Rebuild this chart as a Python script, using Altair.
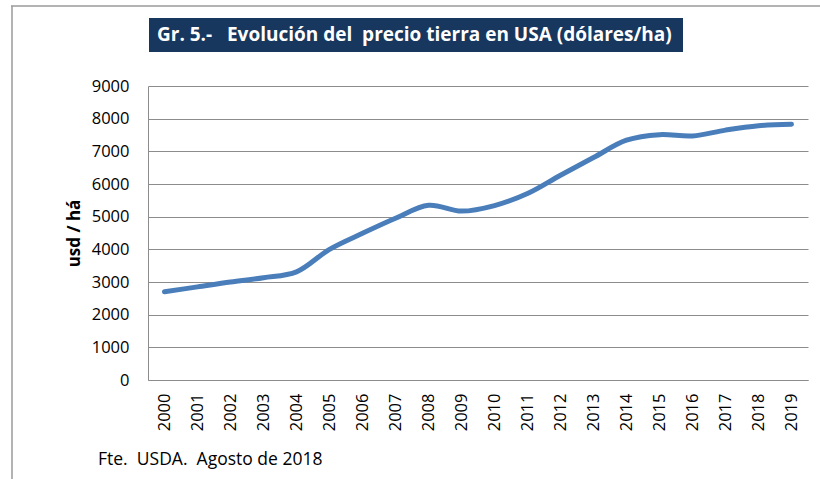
import altair as alt
import pandas as pd

years = [str(y) for y in range(2000, 2020)]
values = [2700, 2850, 3000, 3130, 3310, 4000, 4490, 4950, 5350, 5170,
          5340, 5710, 6270, 6810, 7340, 7510, 7470, 7650, 7785, 7830]
y_ticks = [0, 1000, 2000, 3000, 4000, 5000, 6000, 7000, 8000, 9000]
title_text = "Gr. 5.-\u00a0\u00a0\u00a0Evolución del\u00a0\u00a0precio tierra en USA (dólares/ha)"
y_title = "usd / há"
source_text = "Fte.\u00a0 USDA.\u00a0 Agosto de 2018"

df = pd.DataFrame({"year": years, "value": values})
FONT = "Open Sans"

line = alt.Chart(df).mark_line(
    color="#4A7EBB", strokeWidth=5, interpolate="catmull-rom", strokeCap="round"
).encode(
    x=alt.X("year:O", scale=alt.Scale(type="point", padding=0.5),
            axis=alt.Axis(title=None, labelAngle=-90, labelFontSize=16.5, labelFont=FONT,
                          labelColor="#000000", ticks=False, domain=True,
                          domainColor="#8c8c8c", labelPadding=13, grid=False)),
    y=alt.Y("value:Q", scale=alt.Scale(domain=[0, 9000], nice=False),
            axis=alt.Axis(title=y_title, values=y_ticks, format="d", labelFontSize=16.5,
                          labelFont=FONT, labelColor="#000000", ticks=False,
                          domainColor="#8c8c8c", gridColor="#8c8c8c", gridWidth=1,
                          labelPadding=19, titleFont=FONT, titleFontSize=17,
                          titleFontWeight="bold", titleColor="#000000", titlePadding=8)),
)

one = pd.DataFrame({"t": [title_text]})
box = alt.Chart(one).mark_rect(color="#17375E").encode(
    x=alt.value(1), x2=alt.value(535), y=alt.value(-68), y2=alt.value(-34)
)
ttl = alt.Chart(one).mark_text(
    align="left", baseline="middle", font=FONT, fontSize=19, fontWeight="bold", color="white"
).encode(x=alt.value(9), y=alt.value(-51), text="t:N")

src = alt.Chart(pd.DataFrame({"t": [source_text]})).mark_text(
    align="left", baseline="middle", font=FONT, fontSize=17.5, color="#000000"
).encode(x=alt.value(-50), y=alt.value(374), text="t:N")

frame_top = alt.Chart(one).mark_rule(color="#9a9a9a", strokeWidth=1.5).encode(
    x=alt.value(-137), x2=alt.value(672), y=alt.value(-80)
)
frame_left = alt.Chart(one).mark_rule(color="#9a9a9a", strokeWidth=1.5).encode(
    x=alt.value(-136), y=alt.value(-80), y2=alt.value(393)
)

chart = alt.layer(line, box, ttl, src, frame_top, frame_left).properties(
    width=660, height=294,
    autosize=alt.AutoSizeParams(type="none"),
    padding={"left": 148, "top": 86, "right": 12, "bottom": 99},
    background="white",
).configure_view(stroke=None)

chart.save("out.html", embed_options={"renderer": "svg", "actions": False})
